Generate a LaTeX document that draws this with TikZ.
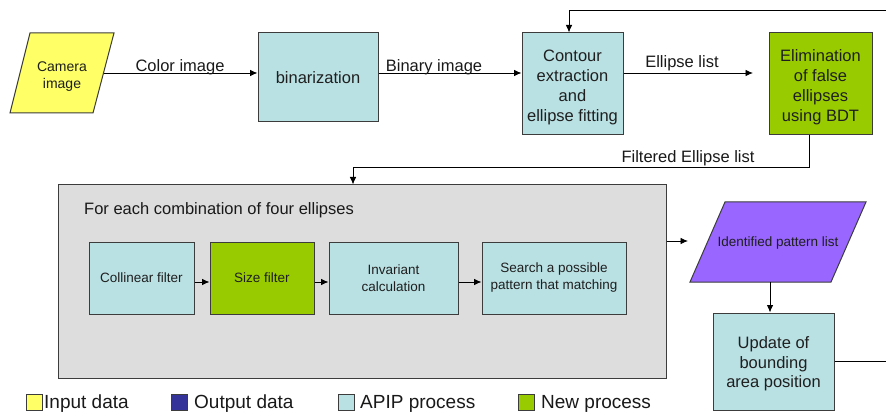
\documentclass[tikz,border=0pt]{standalone}
\usepackage{fontspec}
\setmainfont{Liberation Sans}
\usetikzlibrary{arrows.meta,calc}
\definecolor{apip}{RGB}{185,224,227}
\definecolor{newp}{RGB}{153,204,0}
\definecolor{inp}{RGB}{255,255,102}
\definecolor{outp}{RGB}{153,102,255}
\definecolor{outleg}{RGB}{51,51,153}
\definecolor{grayfill}{RGB}{221,221,221}
\definecolor{bord}{RGB}{60,60,60}
\tikzset{
  arr/.style={draw=black,line width=0.9pt,-{Latex[length=7.5pt,width=6.5pt]}},
  ln/.style={draw=black,line width=0.9pt},
  boxbase/.style={draw=bord,line width=1pt,rectangle,inner sep=0pt,align=center,text=black!88},
  apipbox/.style={boxbase,fill=apip},
  newbox/.style={boxbase,fill=newp},
  bigtxt/.style={font=\fontsize{16.5}{20}\selectfont},
  smalltxt/.style={font=\fontsize{13.5}{17}\selectfont},
  boxtxt/.style={align=center,inner sep=0pt,text=black!88},
  lbl/.style={font=\fontsize{16.5}{20}\selectfont,inner sep=0pt,text=black!90},
  legtxt/.style={font=\fontsize{19}{22}\selectfont,inner sep=0pt,anchor=base west,text=black!90},
  legbox/.style={draw=bord,line width=1pt,minimum width=16pt,minimum height=16pt,inner sep=0pt},
}
\begin{document}
\begin{tikzpicture}[x=1pt,y=-1pt]
\useasboundingbox (0,0) rectangle (886,414);
% Camera image parallelogram
\filldraw[draw=bord,line width=1pt,fill=inp] (30,33) -- (114,33) -- (93,113) -- (10,113) -- cycle;
\node[boxtxt,font=\fontsize{14}{16.7}\selectfont] (cam) at (62,76.5) {Camera\\image};
\coordinate (camR) at (103.5,73);
% top row
\node[apipbox,bigtxt,minimum width=120pt,minimum height=89pt] (bin) at (318,77.5) {binarization};
\node[apipbox,minimum width=101pt,minimum height=102pt] (cont) at (572.5,84) {};
\node[boxtxt,bigtxt] (contT) at (572.5,87) {Contour\\extraction\\and\\ellipse fitting};
\node[newbox,minimum width=103pt,minimum height=102pt] (elim) at (820.5,84) {};
\node[boxtxt,bigtxt] (elimT) at (820.5,87) {Elimination\\of false\\ellipses\\using BDT};
\draw[arr] (camR) -- (camR -| bin.west);
\node[lbl] (lc) at (180,67) {Color image};
\draw[arr] (bin.east |- camR) -- (cont.west |- camR);
\node[lbl] (lb) at (434,67) {Binary image};
\draw[arr] (cont.east |- camR) -- (753,73) coordinate (elimIn);
\node[lbl] (le) at (682,63) {Ellipse list};
% feedback
\coordinate (fbTop) at (886,10);
\draw[arr] (fbTop) -| ([xshift=-3.5pt]cont.north);
% gray box
\node[draw=bord,line width=1pt,fill=grayfill,minimum width=608pt,minimum height=193pt,inner sep=0pt] (grp) at (362,281.5) {};
\node[lbl,anchor=west] (fe) at (84,210) {For each combination of four ellipses};
\draw[arr] ([xshift=-11.5pt]elim.south) -- ++(0,32) -| ([xshift=-9pt]grp.north);
\node[lbl] (lf) at (688,158) {Filtered Ellipse list};
% inner boxes
\node[apipbox,smalltxt,minimum width=105pt,minimum height=72pt] (col) at (141.5,278) {Collinear filter};
\node[newbox,smalltxt,minimum width=104pt,minimum height=72pt] (size) at (262,278) {Size filter};
\node[apipbox,smalltxt,minimum width=129pt,minimum height=72pt] (inv) at (393.5,278) {Invariant\\calculation};
\node[apipbox,smalltxt,minimum width=144pt,minimum height=72pt] (srch) at (554,278) {Search a possible\\pattern that matching};
\draw[arr] ([yshift=-4pt]col.east) -- ([yshift=-4pt]size.west);
\draw[arr] ([yshift=-4pt]size.east) -- ([yshift=-4pt]inv.west);
\draw[arr] ([yshift=-4pt]inv.east) -- ([yshift=-4pt]srch.west);
% identified pattern list
\filldraw[draw=bord,line width=1pt,fill=outp] (725,202) -- (866,202) -- (831,282) -- (690,282) -- cycle;
\node[smalltxt,text=black!88] (ipl) at (778,243) {Identified pattern list};
\coordinate (iplIn) at (688,241);
\draw[arr] (grp.east |- iplIn) -- (iplIn);
\node[apipbox,minimum width=121pt,minimum height=97pt] (upd) at (773.5,361.5) {};
\node[boxtxt,font=\fontsize{16.5}{19.5}\selectfont] (updT) at (773.5,364) {Update of\\bounding\\area position};
\draw[arr] (770,282) -- ([xshift=-3.5pt]upd.north);
\coordinate (fbR) at (886,361);
\draw[ln] ([yshift=0.5pt]upd.east) -- (fbR);
% legend
\node[legbox,fill=inp] (k1) at (34.5,402) {};
\node[legtxt] (t1) at (44,408) {Input data};
\node[legbox,fill=outleg] (k2) at (179,402) {};
\node[legtxt] (t2) at (194,408) {Output data};
\node[legbox,fill=apip] (k3) at (346,402) {};
\node[legtxt] (t3) at (360,408) {APIP process};
\node[legbox,fill=newp] (k4) at (526.5,402) {};
\node[legtxt] (t4) at (541,408) {New process};
\end{tikzpicture}
\end{document}
